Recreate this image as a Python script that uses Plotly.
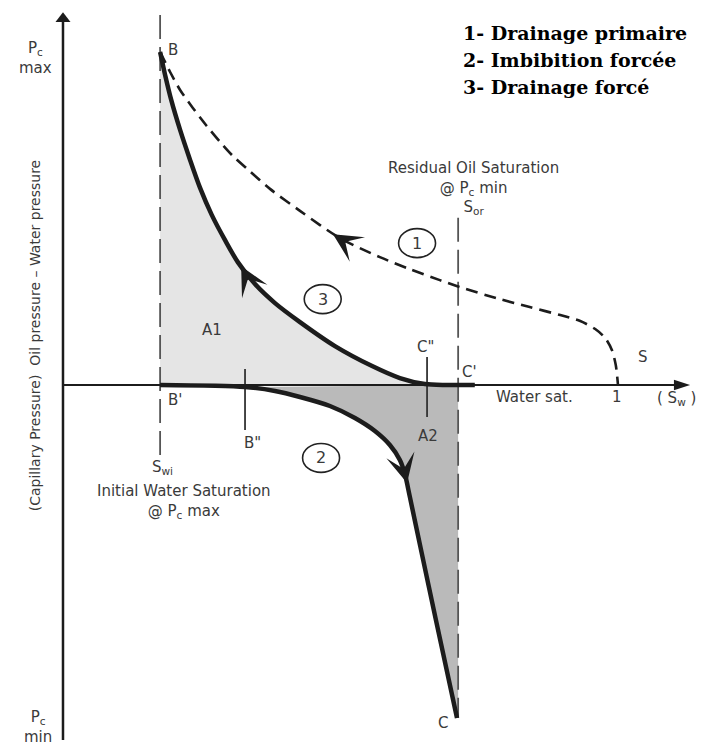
import plotly.graph_objects as go

# ---------------- data (Sw = water saturation, Pc = capillary pressure, normalised) ----------------
SW_WI = 0.175          # initial water saturation
SW_ORL = 0.712         # 1 - Sor
PC_MAX = 1.0
PC_MIN = -1.0

# 1 - primary drainage (dashed)
sw_primary = [0.175, 0.193, 0.211, 0.234, 0.259, 0.283, 0.306, 0.332, 0.373, 0.427, 0.499, 0.571,
              0.625, 0.679, 0.715, 0.787, 0.841, 0.896, 0.932, 0.959, 0.977, 0.989, 0.996, 1.0]
pc_primary = [1.0, 0.940, 0.886, 0.832, 0.778, 0.730, 0.688, 0.649, 0.589, 0.523, 0.441, 0.384,
              0.348, 0.315, 0.294, 0.258, 0.234, 0.210, 0.192, 0.168, 0.141, 0.105, 0.060, 0.0]

# 2 - forced imbibition
sw_imb = [0.175, 0.328, 0.382, 0.427, 0.481, 0.526, 0.562, 0.589, 0.607, 0.616, 0.625, 0.644, 0.672, 0.710]
pc_imb = [0.0, -0.006, -0.018, -0.036, -0.063, -0.099, -0.138, -0.180, -0.225, -0.267, -0.336, -0.486,
          -0.706, -1.0]

# 3 - forced drainage
sw_forced = [0.175, 0.184, 0.195, 0.211, 0.229, 0.247, 0.268, 0.292, 0.315, 0.346, 0.382, 0.427,
             0.490, 0.557, 0.607, 0.652, 0.688, 0.712, 0.742]
pc_forced = [1.0, 0.931, 0.856, 0.766, 0.676, 0.592, 0.511, 0.435, 0.369, 0.303, 0.246, 0.189,
             0.117, 0.057, 0.021, 0.003, 0.0, 0.0, 0.0]

# marker ticks B'' and C''
sw_ticks = [0.328, 0.656]
pc_tick_top = [0.048, 0.084]
pc_tick_bot = [-0.135, -0.096]

# direction arrows on curves: (tip sw, tip pc, tail sw, tail pc)
curve_arrows = [
    (0.4865, 0.453, 0.510, 0.4285),   # curve 1
    (0.321, 0.357, 0.3335, 0.318),    # curve 3
    (0.620, -0.294, 0.613, -0.245),   # curve 2
]

# numbered circles
circle_sw = [0.638, 0.465, 0.468]
circle_pc = [0.426, -0.219, 0.258]
circle_txt = ["1", "2", "3"]

# text labels (text, sw, pc)
labels = [
    ("P<sub>c</sub><br>max", -0.050, 0.982),
    ("P<sub>c</sub><br>min", -0.045, -1.027),
    ("B", 0.198, 1.006),
    ("B'", 0.202, -0.045),
    ('B"', 0.341, -0.174),
    ('C"', 0.654, 0.114),
    ("C'", 0.732, 0.039),
    ("C", 0.685, -1.015),
    ("A1", 0.268, 0.165),
    ("A2", 0.658, -0.153),
    ("S", 1.045, 0.084),
    ("1", 0.998, -0.036),
    ("Water sat.", 0.849, -0.036),
    ("S<sub>wi</sub>", 0.180, -0.249),
    ("Initial Water Saturation<br>@ P<sub>c</sub> max", 0.218, -0.350),
    ("Residual Oil Saturation<br>@ P<sub>c</sub> min<br>S<sub>or</sub>", 0.739, 0.592),
]
sw_label_right = ("( S<sub>w</sub> )", 1.067, -0.042)
y_title = "(Capillary Pressure)  Oil pressure \u2013 Water pressure"

legend_lines = ["1- Drainage primaire", "2- Imbibition forcée", "3- Drainage forcé"]
legend_pc = [1.057, 0.976, 0.895]
legend_sw = 0.717

# ---------------- styles ----------------
INK = "#1c1c1c"
TXT = "#3a3a3a"
FONT = "DejaVu Sans"

fig = go.Figure()

# shaded areas
fig.add_trace(go.Scatter(x=sw_forced[:-1] + [SW_WI], y=pc_forced[:-1] + [0.0], fill="toself",
                         fillcolor="#e5e5e5", line=dict(width=0), mode="lines", hoverinfo="skip"))
fig.add_trace(go.Scatter(x=sw_imb[1:] + [SW_ORL, SW_ORL], y=pc_imb[1:] + [PC_MIN, 0.0], fill="toself",
                         fillcolor="#bababa", line=dict(width=0), mode="lines", hoverinfo="skip"))

# dashed vertical lines (Swi and 1-Sor)
fig.add_trace(go.Scatter(x=[SW_WI, SW_WI], y=[1.111, -0.21], mode="lines",
                         line=dict(color="#555555", width=1.8, dash="24px,8px")))
fig.add_trace(go.Scatter(x=[SW_ORL, SW_ORL], y=[0.502, PC_MIN], mode="lines",
                         line=dict(color="#555555", width=1.8, dash="24px,8px")))

# small ticks B'' and C''
for s, t, b in zip(sw_ticks, pc_tick_top, pc_tick_bot):
    fig.add_trace(go.Scatter(x=[s, s], y=[t, b], mode="lines", line=dict(color="#333333", width=1.8)))

# axes
fig.add_trace(go.Scatter(x=[0, 0], y=[-1.066, 1.09], mode="lines", line=dict(color=INK, width=2.5)))
fig.add_trace(go.Scatter(x=[0, 1.12], y=[0, 0], mode="lines", line=dict(color=INK, width=2.2)))
fig.add_trace(go.Scatter(x=[0], y=[1.100], mode="markers",
                         marker=dict(symbol="triangle-up", size=13, color=INK)))
fig.add_trace(go.Scatter(x=[1.130], y=[0], mode="markers",
                         marker=dict(symbol="arrow", size=17, angle=90, color=INK)))

# curves
fig.add_trace(go.Scatter(x=sw_primary, y=pc_primary, mode="lines",
                         line=dict(color=INK, width=2.6, dash="12px,7px", shape="spline", smoothing=0.8)))
fig.add_trace(go.Scatter(x=sw_imb, y=pc_imb, mode="lines",
                         line=dict(color=INK, width=4.5, shape="spline", smoothing=0.8)))
fig.add_trace(go.Scatter(x=sw_forced, y=pc_forced, mode="lines",
                         line=dict(color=INK, width=4.5, shape="spline", smoothing=0.8)))

annotations = []
for tx, ty, ax, ay in curve_arrows:
    annotations.append(dict(x=tx, y=ty, ax=ax, ay=ay, xref="x", yref="y", axref="x", ayref="y",
                            text="", showarrow=True, arrowhead=3, arrowsize=2.4, arrowwidth=2,
                            arrowcolor=INK))

shapes = []
RX, RY = 0.0333, 0.0435
for cx, cy, ct in zip(circle_sw, circle_pc, circle_txt):
    shapes.append(dict(type="circle", xref="x", yref="y", x0=cx - RX, x1=cx + RX, y0=cy - RY, y1=cy + RY,
                       line=dict(color="#222222", width=1.6)))
    annotations.append(dict(x=cx, y=cy, xref="x", yref="y", text=ct, showarrow=False,
                            font=dict(family=FONT, size=16, color=TXT)))

for t, x, y in labels:
    annotations.append(dict(x=x, y=y, xref="x", yref="y", text=t, showarrow=False,
                            font=dict(family=FONT, size=15, color=TXT)))
annotations.append(dict(x=sw_label_right[1], y=sw_label_right[2], xref="x", yref="y",
                        text=sw_label_right[0], showarrow=False, xanchor="left",
                        font=dict(family=FONT, size=15, color=TXT)))
annotations.append(dict(x=-0.050, y=0.150, xref="x", yref="y", text=y_title, showarrow=False,
                        textangle=-90, font=dict(family=FONT, size=14, color=TXT)))
for t, y in zip(legend_lines, legend_pc):
    annotations.append(dict(x=legend_sw, y=y, xref="x", yref="y", text="<b>" + t + "</b>",
                            showarrow=False, xanchor="left",
                            font=dict(family="DejaVu Serif", size=19, color="#000000")))

fig.update_layout(
    width=702, height=748, autosize=False,
    margin=dict(l=0, r=0, t=0, b=0),
    paper_bgcolor="white", plot_bgcolor="white",
    showlegend=False,
    xaxis=dict(range=[-0.1135, 1.1514], visible=False, fixedrange=True),
    yaxis=dict(range=[-1.0901, 1.1562], visible=False, fixedrange=True),
    annotations=annotations, shapes=shapes,
)

fig.write_html("out.html", config={"displayModeBar": False},
               post_script="document.body.style.margin='0';document.body.style.overflow='hidden';")
